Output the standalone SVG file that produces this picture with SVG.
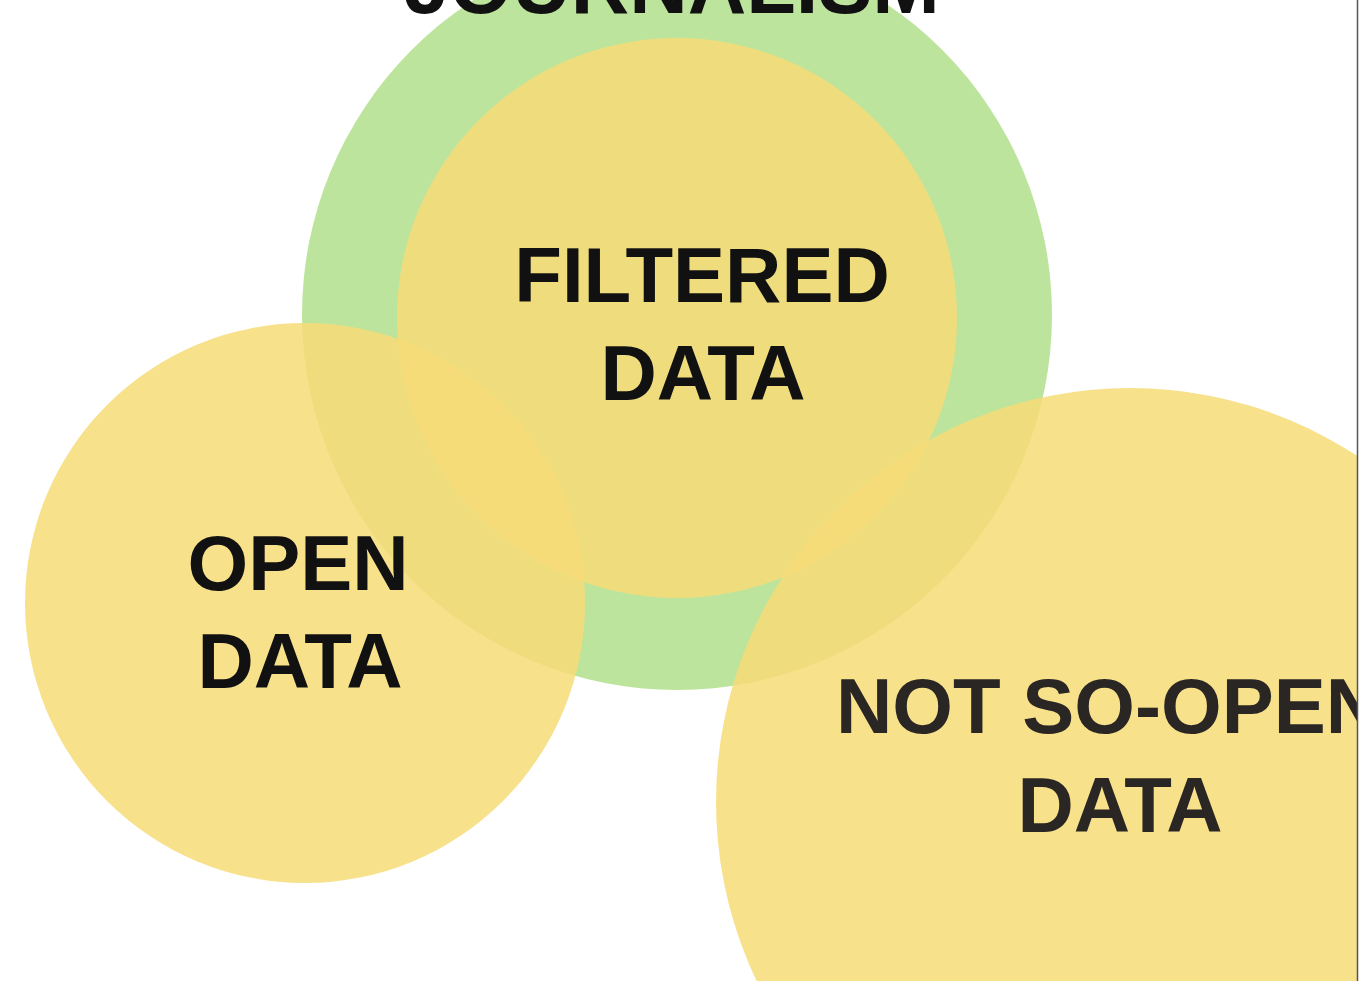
<svg xmlns="http://www.w3.org/2000/svg" width="1359" height="981" viewBox="0 0 1359 981">
<defs>
<style>
.lbl{font-family:"Liberation Sans",Arial,sans-serif;font-weight:bold;font-size:78px;text-anchor:middle;fill:#111}
.dk{fill:#2a2624}
.yel{fill:#f7dc78;fill-opacity:0.86}
</style>
<clipPath id="clip"><rect x="0" y="0" width="1357" height="981"/></clipPath>
</defs>
<rect x="0" y="0" width="1359" height="981" fill="#fff"/>
<g clip-path="url(#clip)">
<g id="journalism">
<circle cx="677" cy="315" r="375" fill="#bde49c"/>
<text class="lbl" x="672" y="13" style="font-size:81px">JOURNALISM</text>
</g>
<g id="filtered-data">
<circle class="yel" cx="677" cy="318" r="280"/>
<text class="lbl" x="702" y="302">FILTERED</text>
<text class="lbl" x="703" y="400">DATA</text>
</g>
<g id="open-data">
<circle class="yel" cx="305" cy="603" r="280"/>
<text class="lbl" x="298" y="590">OPEN</text>
<text class="lbl" x="300" y="688">DATA</text>
</g>
<g id="not-so-open-data">
<circle class="yel" cx="1130" cy="802" r="414"/>
<text class="lbl dk" x="1109" y="733">NOT SO-OPEN</text>
<text class="lbl dk" x="1120" y="832">DATA</text>
</g>
<g id="connectors"></g>
</g>
<line x1="1357.5" y1="0" x2="1357.5" y2="981" stroke="#555" stroke-width="1.5"/>
</svg>
